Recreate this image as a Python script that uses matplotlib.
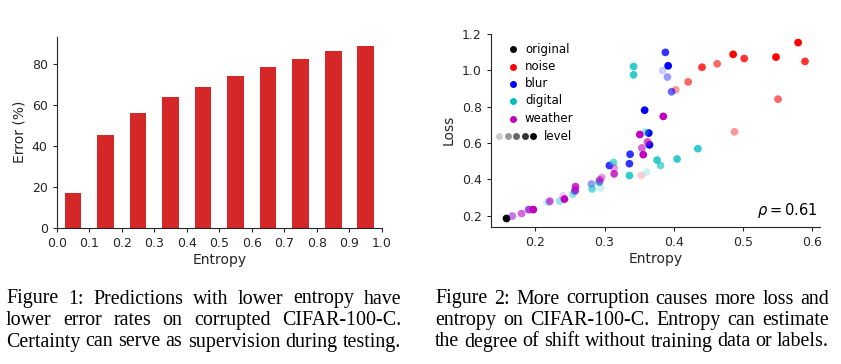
import numpy as np
import matplotlib
matplotlib.use("Agg")
import matplotlib.pyplot as plt
from matplotlib.colors import to_rgba

# ---- Figure 1 data: error rate per entropy bin ----
entropy_bins = [0.05, 0.15, 0.25, 0.35, 0.45, 0.55, 0.65, 0.75, 0.85, 0.95]
error_pct = [16.8, 45.4, 56.0, 64.0, 68.9, 74.3, 78.7, 82.6, 86.5, 89.0]

# ---- Figure 2 data: (entropy, loss, severity level) per corruption family ----
original_x = [0.157]
original_y = [0.187]
original_lv = [5]

noise_x = [0.580, 0.590, 0.548, 0.551, 0.486, 0.502, 0.463, 0.441, 0.421, 0.403, 0.488, 0.363, 0.353]
noise_y = [1.154, 1.050, 1.074, 0.842, 1.089, 1.066, 1.037, 1.018, 0.937, 0.894, 0.662, 0.610, 0.421]
noise_lv = [5, 4, 5, 3, 5, 4, 3, 4, 3, 2, 2, 1, 1]

blur_x = [0.388, 0.392, 0.384, 0.391, 0.397, 0.358, 0.364, 0.365, 0.337, 0.336, 0.307,
          0.293, 0.281, 0.257, 0.220, 0.166, 0.190]
blur_y = [1.100, 1.026, 1.000, 0.964, 0.883, 0.781, 0.655, 0.590, 0.538, 0.486, 0.476,
          0.384, 0.374, 0.335, 0.274, 0.196, 0.233]
blur_lv = [4, 5, 1, 2, 3, 5, 5, 5, 4, 4, 4, 2, 2, 3, 1, 1, 2]

digital_x = [0.342, 0.342, 0.435, 0.405, 0.376, 0.381, 0.336, 0.361, 0.313, 0.292,
             0.282, 0.254, 0.235, 0.294, 0.359, 0.217]
digital_y = [1.022, 0.976, 0.569, 0.512, 0.506, 0.476, 0.421, 0.439, 0.493, 0.386,
             0.347, 0.317, 0.280, 0.350, 0.660, 0.274]
digital_lv = [4, 4, 4, 4, 4, 3, 4, 1, 3, 3, 3, 2, 2, 1, 2, 1]

weather_x = [0.385, 0.351, 0.362, 0.354, 0.356, 0.314, 0.314, 0.296, 0.293, 0.258,
             0.258, 0.242, 0.221, 0.197, 0.191, 0.180, 0.167, 0.240]
weather_y = [0.747, 0.647, 0.605, 0.573, 0.536, 0.430, 0.462, 0.410, 0.397, 0.360,
             0.341, 0.291, 0.280, 0.233, 0.233, 0.211, 0.198, 0.309]
weather_lv = [5, 5, 3, 3, 5, 4, 2, 2, 3, 4, 3, 5, 3, 5, 3, 3, 2, 1]

level_alpha = {1: 0.2, 2: 0.4, 3: 0.6, 4: 0.8, 5: 1.0}

families = [
    ("original", "k", original_x, original_y, original_lv),
    ("noise", "r", noise_x, noise_y, noise_lv),
    ("blur", "b", blur_x, blur_y, blur_lv),
    ("digital", "c", digital_x, digital_y, digital_lv),
    ("weather", "m", weather_x, weather_y, weather_lv),
]

caption1 = ["Figure 1: Predictions with lower entropy have",
            "lower error rates on corrupted CIFAR-100-C.",
            "Certainty can serve as supervision during testing."]
caption2 = ["Figure 2: More corruption causes more loss and",
            "entropy on CIFAR-100-C. Entropy can estimate",
            "the degree of shift without training data or labels."]

TXT = "0.15"
plt.rcParams.update({
    "font.family": "DejaVu Sans",
    "xtick.labelsize": 9,
    "ytick.labelsize": 9,
    "axes.labelsize": 10,
    "xtick.color": TXT,
    "ytick.color": TXT,
    "axes.labelcolor": TXT,
    "axes.edgecolor": TXT,
    "xtick.major.size": 3,
    "ytick.major.size": 3,
})

W, H = 841, 364
fig = plt.figure(figsize=(W / 100, H / 100), dpi=100)


def px_axes(l, t, r, b):
    return fig.add_axes([l / W, 1 - b / H, (r - l) / W, (b - t) / H])


# ---- left: error vs entropy ----
ax1 = px_axes(56.7, 36.7, 382, 227.7)
ax1.bar(entropy_bins, error_pct, width=0.051, color="#d62728")
ax1.set_xlim(0, 1)
ax1.set_xticks(np.arange(0, 1.01, 0.1))
ax1.set_yticks([0, 20, 40, 60, 80])
ax1.set_xlabel("Entropy", labelpad=2)
ax1.set_ylabel("Error (%)")
for s in ["top", "right"]:
    ax1.spines[s].set_visible(False)

# ---- right: loss vs entropy ----
ax2 = px_axes(490.7, 33.8, 820, 226.7)
for name, col, xs, ys, lv in families:
    cols = [to_rgba(col, level_alpha[v]) for v in lv]
    ax2.scatter(xs, ys, c=cols, s=31, linewidths=0)
ax2.set_xticks([0.2, 0.3, 0.4, 0.5, 0.6])
ax2.set_yticks([0.2, 0.4, 0.6, 0.8, 1.0, 1.2])
ax2.set_xlabel("Entropy", labelpad=2)
ax2.set_ylabel("Loss")
for s in ["top", "right"]:
    ax2.spines[s].set_visible(False)

# hand-drawn legend in axes coords
row_y = [0.920, 0.829, 0.741, 0.652, 0.560]
for (name, col, *_), yy in zip(families, row_y):
    ax2.plot([0.0668], [yy], "o", color=col, ms=5, mew=0, transform=ax2.transAxes, clip_on=False)
    ax2.text(0.104, yy, name, transform=ax2.transAxes, va="center", ha="left",
             fontsize=8.5, color="k")
for xx, lv in zip([0.026, 0.052, 0.078, 0.103, 0.129], [1, 2, 3, 4, 5]):
    ax2.plot([xx], [0.470], "o", color=to_rgba("k", level_alpha[lv]), ms=5, mew=0,
             transform=ax2.transAxes, clip_on=False)
ax2.text(0.162, 0.470, "level", transform=ax2.transAxes, va="center", ha="left",
         fontsize=8.5, color="k")
ax2.text(0.992, 0.085, r"$\rho = 0.61$", transform=ax2.transAxes, ha="right",
         va="center", fontsize=10.5, color="k")


# ---- justified captions ----
def justified(lines, x0, x1, baselines, size=14.4):
    renderer = fig.canvas.get_renderer()
    for line, yb in zip(lines, baselines):
        words = line.split()
        texts = [fig.text(0, 1 - yb / H, w, fontsize=size, family="Liberation Serif",
                          va="baseline", ha="left", color="black") for w in words]
        widths = [t.get_window_extent(renderer).width for t in texts]
        gap = ((x1 - x0) - sum(widths)) / (len(words) - 1)
        x = x0
        for t, w in zip(texts, widths):
            t.set_x(x / W)
            x += w + gap


baselines = [303.5, 325.0, 346.5]
justified(caption1, 6, 401, baselines)
justified(caption2, 435, 829, baselines)

fig.savefig("out.png", dpi=100)
